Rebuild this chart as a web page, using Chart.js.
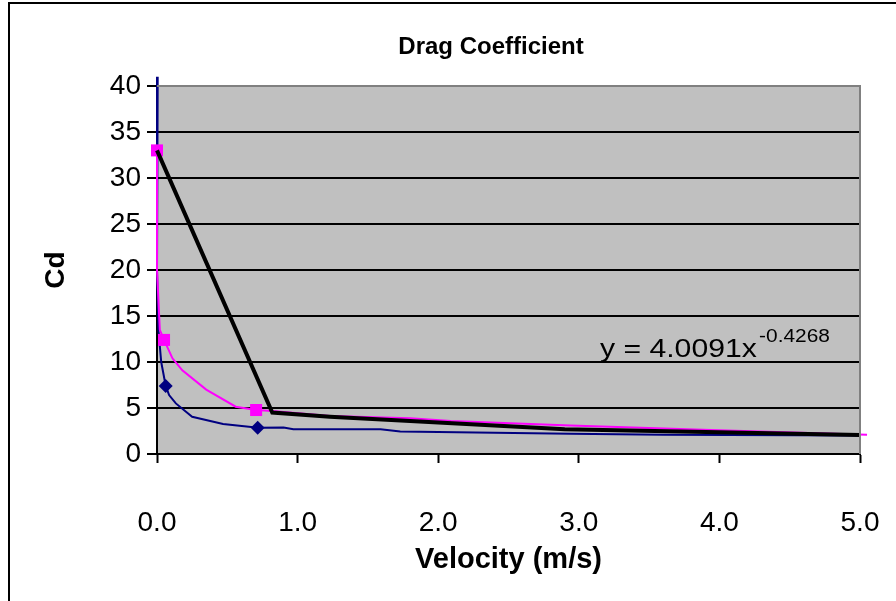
<!DOCTYPE html>
<html>
<head>
<meta charset="utf-8">
<script src="https://cdn.jsdelivr.net/npm/chart.js@4"></script>
<style>
  html, body { margin: 0; padding: 0; background: #fff; }
  #wrap { width: 896px; height: 601px; }
</style>
</head>
<body>
<div id="wrap"><canvas id="c" width="896" height="601"></canvas></div>
<script>
// ---- data ----
const xTicks = [0, 1, 2, 3, 4, 5];
const yTicks = [0, 5, 10, 15, 20, 25, 30, 35, 40];

// navy series (smoothed curve)
const navyX = [0.005, 0.0, 0.0, 0.01, 0.03, 0.062, 0.086, 0.134, 0.25, 0.47, 0.72, 0.9, 0.97, 1.59, 1.73, 2.94, 3.6, 5.0];
const navyY = [41, 30, 20, 13.5, 10, 7.4, 6.4, 5.5, 4.05, 3.26, 2.86, 2.88, 2.68, 2.68, 2.45, 2.2, 2.08, 2.0];
// navy diamond markers
const navyMarkX = [0.062, 0.716];
const navyMarkY = [7.4, 2.86];

// magenta series (smoothed curve)
const magX = [0.0, 0.0, 0.0, 0.02, 0.05, 0.11, 0.18, 0.35, 0.56, 0.705, 0.82, 1.23, 1.8, 2.09, 2.94, 3.94, 5.05];
const magY = [33, 24, 20, 13.5, 12.4, 10.4, 9.1, 7.0, 5.14, 4.78, 4.67, 4.13, 3.88, 3.6, 3.1, 2.6, 2.1];
// magenta square markers
const magMarkX = [0.0, 0.05, 0.705];
const magMarkY = [33, 12.4, 4.78];

// black polyline
const blackX = [0.0, 0.82, 1.23, 1.8, 2.9, 5.0];
const blackY = [33, 4.5, 4.06, 3.6, 2.7, 2.07];

const titleText = 'Drag Coefficient';
const xTitle = 'Velocity (m/s)';
const yTitle = 'Cd';
const trendMain = 'y = 4.0091x';
const trendSup = '-0.4268';

const pts = (xs, ys) => xs.map((x, i) => ({x: x, y: ys[i]}));
const FONT = "'Liberation Sans', Arial, sans-serif";

const decor = {
  id: 'decor',
  beforeDraw(chart) {
    const {ctx, chartArea: a} = chart;
    ctx.save();
    ctx.fillStyle = '#ffffff';
    ctx.fillRect(0, 0, chart.width, chart.height);
    ctx.fillStyle = '#c0c0c0';
    ctx.fillRect(a.left, a.top, a.right - a.left, a.bottom - a.top);
    ctx.restore();
  },
  afterDraw(chart) {
    const {ctx, chartArea: a} = chart;
    ctx.save();
    // plot frame top / right (gray)
    ctx.strokeStyle = '#808080';
    ctx.lineWidth = 2;
    ctx.beginPath();
    ctx.moveTo(a.left, a.top);
    ctx.lineTo(a.right, a.top);
    ctx.lineTo(a.right, a.bottom);
    ctx.stroke();
    // outer chart border (left & top)
    ctx.strokeStyle = '#000';
    ctx.lineWidth = 2;
    ctx.beginPath();
    ctx.moveTo(9, chart.height);
    ctx.lineTo(9, 3);
    ctx.lineTo(chart.width, 3);
    ctx.stroke();
    // title
    ctx.fillStyle = '#000';
    ctx.font = 'bold 24px ' + FONT;
    ctx.textAlign = 'center';
    ctx.textBaseline = 'middle';
    ctx.fillText(titleText, 491, 47);
    // trendline equation
    ctx.textAlign = 'left';
    ctx.textBaseline = 'alphabetic';
    ctx.font = '26px ' + FONT;
    ctx.save();
    ctx.translate(600, 357);
    ctx.scale(1.16, 1);
    ctx.fillText(trendMain, 0, 0);
    const w = ctx.measureText(trendMain).width;
    ctx.font = '18px ' + FONT;
    ctx.fillText(trendSup, w + 2, -15);
    ctx.restore();
    ctx.restore();
  }
};

new Chart(document.getElementById('c'), {
  type: 'scatter',
  data: {
    datasets: [
      { label: 'black', data: pts(blackX, blackY), showLine: true, borderColor: '#000', borderWidth: 4,
        pointRadius: 0, tension: 0, clip: false },
      { label: 'magMarks', data: pts(magMarkX, magMarkY), showLine: false, pointStyle: 'rect',
        pointRadius: 8.5, backgroundColor: '#ff00ff', borderColor: '#ff00ff', borderWidth: 0, clip: false },
      { label: 'navyMarks', data: pts(navyMarkX, navyMarkY), showLine: false, pointStyle: 'rectRot',
        pointRadius: 7, backgroundColor: '#000080', borderColor: '#000080', borderWidth: 0, clip: false },
      { label: 'magenta', data: pts(magX, magY), showLine: true, borderColor: '#ff00ff', borderWidth: 2,
        pointRadius: 0, tension: 0, clip: false },
      { label: 'navy', data: pts(navyX, navyY), showLine: true, borderColor: '#000080', borderWidth: 2,
        pointRadius: 0, tension: 0, clip: false }
    ]
  },
  options: {
    responsive: false,
    animation: false,
    events: [],
    layout: { padding: { left: 0, right: 36, top: 86, bottom: 0 } },
    plugins: { legend: { display: false }, tooltip: { enabled: false }, title: { display: false } },
    scales: {
      x: {
        type: 'linear', min: 0, max: 5,
        afterFit(s) { s.height = 147; s.paddingLeft = 0; s.paddingRight = 0; },
        afterBuildTicks(s) { s.ticks = xTicks.map(v => ({value: v})); },
        ticks: { color: '#000', font: { family: FONT, size: 28 }, padding: 43,
                 callback: v => Number(v).toFixed(1) },
        grid: { drawOnChartArea: false, drawTicks: true, tickLength: 9, tickColor: '#000', tickWidth: 2 },
        border: { display: true, color: '#000', width: 2 },
        title: { display: true, text: xTitle, color: '#000', font: { family: FONT, size: 29, weight: 'bold' },
                 padding: { top: 0, bottom: 24 } }
      },
      y: {
        type: 'linear', min: 0, max: 40,
        afterFit(s) { s.width = 157; s.paddingTop = 0; s.paddingBottom = 0; },
        afterBuildTicks(s) { s.ticks = yTicks.map(v => ({value: v})); },
        ticks: { color: '#000', font: { family: FONT, size: 28 }, padding: 6 },
        grid: { color: c => (c.tick && c.tick.value === 40) ? 'rgba(0,0,0,0)' : '#000', lineWidth: 2,
                drawTicks: true, tickLength: 10, tickColor: '#000', tickWidth: 2 },
        border: { display: true, color: '#000', width: 2 },
        title: { display: true, text: yTitle, color: '#000', font: { family: FONT, size: 28, weight: 'bold' },
                 padding: { top: 39, bottom: 0 } }
      }
    }
  },
  plugins: [decor]
});
</script>
</body>
</html>
